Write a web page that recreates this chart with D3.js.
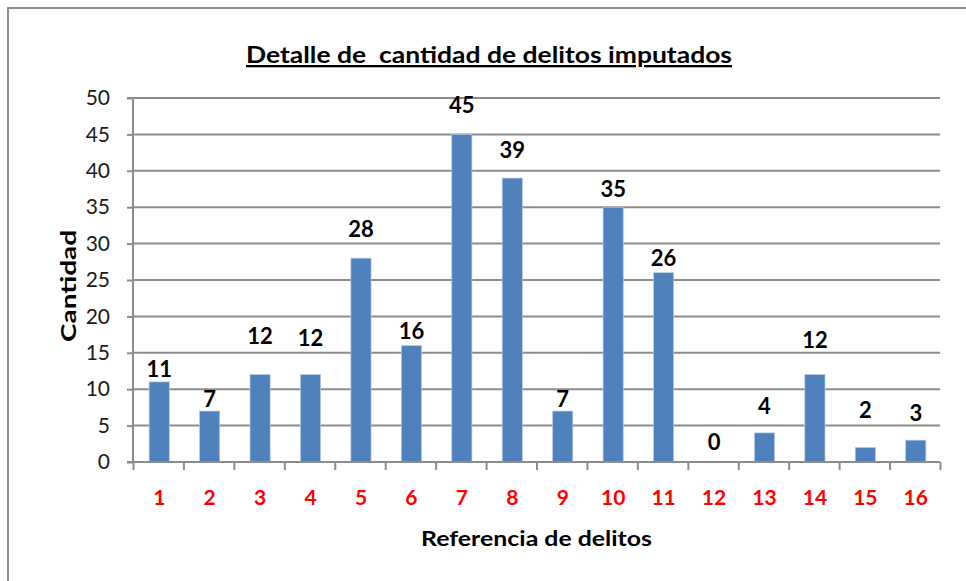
<!DOCTYPE html>
<html>
<head>
<meta charset="utf-8">
<script src="https://cdn.jsdelivr.net/npm/d3@7"></script>
<style>
    body { margin: 0; background: #fff; }
    svg text { font-family: Lato, "Open Sans", sans-serif; }
</style>
</head>
<body>
<div id="chart"></div>
<script>
// data
let categories = ["1","2","3","4","5","6","7","8","9","10","11","12","13","14","15","16"];
let values = [11, 7, 12, 12, 28, 16, 45, 39, 7, 35, 26, 0, 4, 12, 2, 3];
// where each value label sits, in data units (labels were placed by hand)
let labelAt = [11.7, 7.6, 16.2, 15.9, 30.9, 16.9, 47.9, 41.8, 7.6, 36.4, 26.9, 1.7, 6.6, 15.7, 6.1, 5.6];
let yTicks = [0, 5, 10, 15, 20, 25, 30, 35, 40, 45, 50];

let titleText = "Detalle de  cantidad de delitos imputados";
let xTitle = "Referencia de delitos";
let yTitle = "Cantidad";

let W = 966, H = 581;
let margin = {top: 98, right: 26, bottom: 119, left: 133};
let width = W - margin.left - margin.right;
let height = H - margin.top - margin.bottom;

let svg = d3.select("#chart").append("svg")
    .attr("width", W)
    .attr("height", H);

// outer frame (runs off the right and bottom edges)
svg.append("rect")
    .attr("x", 8).attr("y", 8)
    .attr("width", W + 20).attr("height", H + 20)
    .attr("fill", "none")
    .attr("stroke", "#8c8c8c")
    .attr("stroke-width", 2);

// title
svg.append("text")
    .attr("x", 489).attr("y", 63)
    .attr("text-anchor", "middle")
    .style("white-space", "pre")
    .style("font-weight", "bold")
    .style("font-size", "23px")
    .style("text-decoration", "underline")
    .attr("textLength", 486)
    .attr("lengthAdjust", "spacingAndGlyphs")
    .attr("fill", "#000")
    .text(titleText);

let g = svg.append("g")
    .attr("transform", `translate(${margin.left}, ${margin.top})`);

let x = d3.scaleBand()
    .domain(categories)
    .range([0, width])
    .paddingInner(0.6)
    .paddingOuter(0.3);

let xTick = d3.scaleLinear()
    .domain([0, categories.length])
    .range([0, width]);

let y = d3.scaleLinear()
    .domain([0, 50])
    .range([height, 0]);

// gridlines
g.selectAll(".grid")
    .data(yTicks.filter(d => d > 0))
    .join("line")
    .attr("class", "grid")
    .attr("x1", 0).attr("x2", width)
    .attr("y1", d => y(d)).attr("y2", d => y(d))
    .attr("stroke", "#8c8c8c")
    .attr("stroke-width", 2);

// y axis
let yAxis = d3.axisLeft(y)
    .tickValues(yTicks)
    .tickSize(6)
    .tickPadding(17);
let yAxisGroup = g.append("g").call(yAxis);
yAxisGroup.select(".domain").attr("stroke", "#8c8c8c").attr("stroke-width", 2)
    .attr("d", `M-6,${y(0)}H0V${y(50)}H-6`);
yAxisGroup.selectAll(".tick line").attr("stroke", "#8c8c8c").attr("stroke-width", 2);
yAxisGroup.selectAll(".tick text")
    .style("font-size", "21px")
    .style("font-family", "Lato, sans-serif")
    .attr("fill", "#1a1a1a");

// bars
g.selectAll(".bar")
    .data(values)
    .join("rect")
    .attr("class", "bar")
    .attr("x", (d, i) => x(categories[i]) + 1)
    .attr("width", x.bandwidth())
    .attr("y", d => y(d))
    .attr("height", d => y(0) - y(d))
    .attr("fill", "#4f81bd")
    .attr("stroke", "#b9cde5")
    .attr("stroke-width", 0.7);

// x axis line with ticks between categories
let xAxis = d3.axisBottom(xTick)
    .tickValues(d3.range(0, categories.length + 1))
    .tickSize(8)
    .tickFormat("");
let xAxisGroup = g.append("g")
    .attr("transform", `translate(0, ${height})`)
    .call(xAxis);
xAxisGroup.select(".domain").attr("stroke", "#8c8c8c").attr("stroke-width", 2)
    .attr("d", `M0,0H${width}`);
xAxisGroup.selectAll(".tick line").attr("stroke", "#8c8c8c").attr("stroke-width", 2);

// category labels
g.selectAll(".cat")
    .data(categories)
    .join("text")
    .attr("class", "cat")
    .attr("x", d => x(d) + x.bandwidth() / 2 + 1)
    .attr("y", height + 43)
    .attr("text-anchor", "middle")
    .style("font-weight", "bold")
    .style("font-size", "21px")
    .attr("fill", "#ff0000")
    .text(d => d);

// value labels
g.selectAll(".val")
    .data(values)
    .join("text")
    .attr("class", "val")
    .attr("x", (d, i) => x(categories[i]) + x.bandwidth() / 2 + 1)
    .attr("y", (d, i) => y(labelAt[i]))
    .attr("text-anchor", "middle")
    .style("font-weight", "bold")
    .style("font-size", "22px")
    .attr("fill", "#000")
    .text(d => d);

// axis titles
svg.append("text")
    .attr("x", margin.left + width / 2)
    .attr("y", 546)
    .attr("text-anchor", "middle")
    .style("font-weight", "bold")
    .style("font-size", "20px")
    .attr("textLength", 231)
    .attr("lengthAdjust", "spacingAndGlyphs")
    .attr("fill", "#000")
    .text(xTitle);

svg.append("text")
    .attr("transform", "translate(69, 286) rotate(-90)")
    .attr("text-anchor", "middle")
    .attr("dy", "0.35em")
    .style("font-weight", "bold")
    .style("font-size", "20px")
    .attr("textLength", 112)
    .attr("lengthAdjust", "spacingAndGlyphs")
    .attr("fill", "#000")
    .text(yTitle);
</script>
</body>
</html>
